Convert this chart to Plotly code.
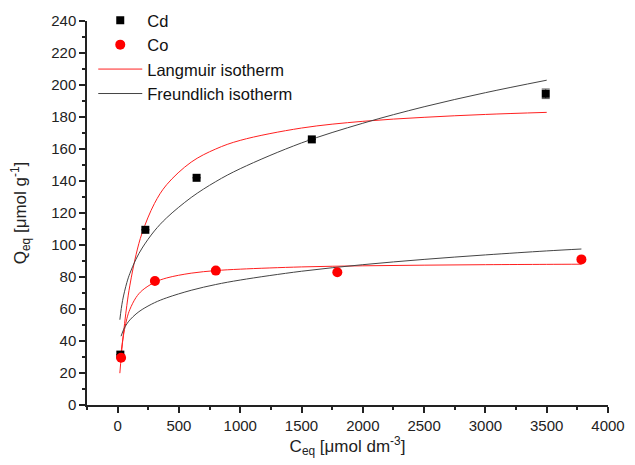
import plotly.graph_objects as go

# Experimental data
cd_c = [22, 226, 644, 1584, 3492]
cd_q = [31.5, 109.5, 142.0, 166.0, 194.5]
cd_err = [0, 0, 0, 0, 3]
co_c = [28, 304, 801, 1792, 3783]
co_q = [29.5, 77.5, 84.0, 83.0, 91.0]

# Fitted isotherm curves
lang_cd_c = [18, 40, 75, 100, 150, 200, 300, 400, 600, 800, 1000, 1500, 2000, 2500, 3000, 3500]
lang_cd_q = [19.9, 39.2, 62.3, 74.9, 93.9, 107.6, 125.9, 137.7, 151.8, 160.0, 165.4, 173.1, 177.3, 179.8, 181.6, 182.9]
lang_co_c = [22, 40, 75, 100, 150, 200, 300, 400, 600, 800, 1000, 1500, 2000, 2500, 3000, 3500, 3783]
lang_co_q = [27.6, 40.0, 53.9, 59.8, 67.2, 71.6, 76.6, 79.4, 82.4, 84.0, 84.9, 86.3, 87.0, 87.4, 87.7, 87.9, 88.0]
freu_cd_c = [18, 40, 75, 100, 150, 200, 300, 400, 600, 800, 1000, 1500, 2000, 2500, 3000, 3500]
freu_cd_q = [53.3, 65.2, 76.5, 82.3, 91.2, 98.1, 108.8, 117.0, 129.7, 139.6, 147.7, 163.8, 176.1, 186.4, 195.2, 203.0]
freu_co_c = [28, 50, 75, 100, 150, 200, 300, 400, 600, 800, 1000, 1500, 2000, 2500, 3000, 3500, 3783]
freu_co_q = [43.0, 47.4, 50.7, 53.2, 56.9, 59.7, 63.9, 67.0, 71.7, 75.3, 78.1, 83.6, 87.7, 91.0, 93.8, 96.3, 97.5]

x_ticks = [0, 500, 1000, 1500, 2000, 2500, 3000, 3500, 4000]

FONT = "Liberation Sans, Arial, sans-serif"

fig = go.Figure()
fig.add_trace(go.Scatter(x=lang_cd_c, y=lang_cd_q, mode="lines", name="Langmuir isotherm",
                         line=dict(color="#ff2020", width=1, shape="spline"),
                         legendgroup="lang", legendrank=3))
fig.add_trace(go.Scatter(x=lang_co_c, y=lang_co_q, mode="lines", name="Langmuir isotherm",
                         line=dict(color="#ff2020", width=1, shape="spline"),
                         legendgroup="lang", showlegend=False))
fig.add_trace(go.Scatter(x=freu_cd_c, y=freu_cd_q, mode="lines", name="Freundlich isotherm",
                         line=dict(color="#444444", width=1, shape="spline"),
                         legendgroup="freu", legendrank=4))
fig.add_trace(go.Scatter(x=freu_co_c, y=freu_co_q, mode="lines", name="Freundlich isotherm",
                         line=dict(color="#444444", width=1, shape="spline"),
                         legendgroup="freu", showlegend=False))
fig.add_trace(go.Scatter(x=cd_c, y=cd_q, mode="markers", name="Cd",
                         marker=dict(symbol="square", size=8, color="black"),
                         error_y=dict(type="data", array=cd_err, color="#555555", thickness=1, width=4),
                         legendrank=1))
fig.add_trace(go.Scatter(x=co_c, y=co_q, mode="markers", name="Co",
                         marker=dict(symbol="circle", size=10, color="#ff0000"),
                         legendrank=2))

axis_common = dict(showline=True, linecolor="#222222", linewidth=1.5, ticks="outside",
                   ticklen=6, tickwidth=1.5, tickcolor="#222222", showgrid=False, zeroline=False,
                   mirror=False, tickfont=dict(family=FONT, size=15, color="#222222"))

fig.update_layout(
    width=635, height=465,
    paper_bgcolor="white", plot_bgcolor="white",
    margin=dict(l=79, r=35, t=13, b=68, autoexpand=False),
    font=dict(family=FONT, color="#222222"),
    showlegend=True,
    legend=dict(x=0.012, y=1.047, xanchor="left", yanchor="top", bgcolor="rgba(0,0,0,0)",
                font=dict(family=FONT, size=16.5, color="#111111"), itemwidth=44,
                tracegroupgap=0),
    xaxis=dict(range=[-250, 4000], tickvals=x_ticks,
               minor=dict(ticks="outside", ticklen=3, tickwidth=1.5, tickcolor="#222222", dtick=250, tick0=0),
               title=dict(text="C<sub>eq</sub> [μmol dm<sup>-3</sup>]", font=dict(family=FONT, size=17, color="#222222"),
                          standoff=4),
               automargin=False,
               **axis_common),
    yaxis=dict(range=[0, 240], dtick=20, tick0=0,
               minor=dict(ticks="outside", ticklen=3, tickwidth=1.5, tickcolor="#222222", dtick=10, tick0=0),
               title=dict(text="Q<sub>eq</sub> [μmol g<sup>-1</sup>]", font=dict(family=FONT, size=17, color="#222222"),
                          standoff=20),
               automargin=False,
               **axis_common),
)

fig.write_html("out.html")
